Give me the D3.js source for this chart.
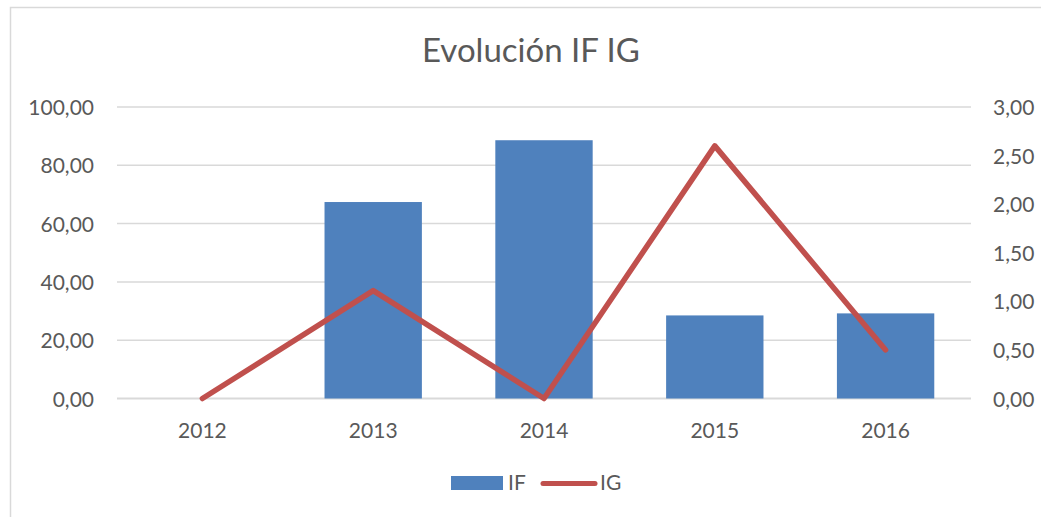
<!DOCTYPE html>
<html>
<head>
<meta charset="utf-8">
<script src="https://cdn.jsdelivr.net/npm/d3@7"></script>
<style>
  body { margin: 0; background: #fff; }
  svg text { font-family: Lato, "Liberation Sans", sans-serif; fill: #595959; }
</style>
</head>
<body>
<svg id="chart" width="1041" height="517"></svg>
<script>
const years = ['2012', '2013', '2014', '2015', '2016'];
const ifValues = [0, 67.4, 88.6, 28.5, 29.2];
const igValues = [0, 1.11, 0, 2.6, 0.5];
const leftTicks = [0, 20, 40, 60, 80, 100];
const rightTicks = [0, 0.5, 1, 1.5, 2, 2.5, 3];

const svg = d3.select('#chart');
const plot = {left: 117, right: 971, top: 107, bottom: 398.5};

// chart area border (only top and left edges are inside the picture)
svg.append('rect')
  .attr('x', 10.5).attr('y', 7.5)
  .attr('width', 1100).attr('height', 600)
  .attr('fill', '#fff')
  .attr('stroke', '#D9D9D9')
  .attr('stroke-width', 1.5);

const x = d3.scaleBand()
  .domain(years)
  .range([plot.left, plot.right])
  .paddingInner(0.43)
  .paddingOuter(0.215);

const yL = d3.scaleLinear().domain([0, 100]).range([plot.bottom, plot.top]);
const yR = d3.scaleLinear().domain([0, 3]).range([plot.bottom, plot.top]);

const fmt = d => d3.format('.2f')(d).replace('.', ',');

// gridlines
svg.append('g')
  .selectAll('line')
  .data(leftTicks)
  .enter()
  .append('line')
  .attr('x1', plot.left).attr('x2', plot.right)
  .attr('y1', d => yL(d)).attr('y2', d => yL(d))
  .attr('stroke', '#D9D9D9')
  .attr('stroke-width', d => d === 0 ? 2 : 1.5);

// left axis
const axL = svg.append('g')
  .attr('transform', `translate(${plot.left - 23},0)`)
  .call(d3.axisLeft(yL).tickValues(leftTicks).tickFormat(fmt).tickSize(0).tickPadding(0));
axL.select('.domain').remove();
axL.selectAll('text')
  .attr('font-size', 21)
  .attr('dy', '0.36em')
  .attr('fill', '#595959');

// right axis
const axR = svg.append('g')
  .attr('transform', `translate(${plot.right + 22},0)`)
  .call(d3.axisRight(yR).tickValues(rightTicks).tickFormat(fmt).tickSize(0).tickPadding(0));
axR.select('.domain').remove();
axR.selectAll('text')
  .attr('font-size', 21)
  .attr('dy', '0.36em')
  .attr('fill', '#595959');

// bottom axis
const axB = svg.append('g')
  .attr('transform', `translate(0,${plot.bottom})`)
  .call(d3.axisBottom(x).tickSize(0).tickPadding(0));
axB.select('.domain').remove();
axB.selectAll('text')
  .attr('font-size', 21)
  .attr('dy', 0)
  .attr('y', 39)
  .attr('fill', '#595959');

// bars
svg.append('g')
  .selectAll('rect')
  .data(years.map((y, i) => ({year: y, value: ifValues[i]})))
  .enter()
  .append('rect')
  .attr('x', d => x(d.year))
  .attr('width', x.bandwidth())
  .attr('y', d => yL(d.value))
  .attr('height', d => yL(0) - yL(d.value))
  .attr('fill', '#4F81BD');

// line
const line = d3.line()
  .x(d => x(d.year) + x.bandwidth() / 2)
  .y(d => yR(d.value));

svg.append('path')
  .datum(years.map((y, i) => ({year: y, value: igValues[i]})))
  .attr('d', line)
  .attr('fill', 'none')
  .attr('stroke', '#C0504D')
  .attr('stroke-width', 5.5)
  .attr('stroke-linejoin', 'round')
  .attr('stroke-linecap', 'round');

// title
svg.append('text')
  .attr('x', 531).attr('y', 62)
  .attr('text-anchor', 'middle')
  .attr('font-size', 33)
  .text('Evolución IF IG');

// legend
const legend = svg.append('g');
legend.append('rect')
  .attr('x', 451).attr('y', 476)
  .attr('width', 52).attr('height', 14)
  .attr('fill', '#4F81BD');
legend.append('text')
  .attr('x', 508).attr('y', 490)
  .attr('font-size', 21)
  .text('IF');
legend.append('line')
  .attr('x1', 543).attr('x2', 595)
  .attr('y1', 483.5).attr('y2', 483.5)
  .attr('stroke', '#C0504D')
  .attr('stroke-width', 5)
  .attr('stroke-linecap', 'round');
legend.append('text')
  .attr('x', 600).attr('y', 490)
  .attr('font-size', 21)
  .text('IG');
</script>
</body>
</html>
